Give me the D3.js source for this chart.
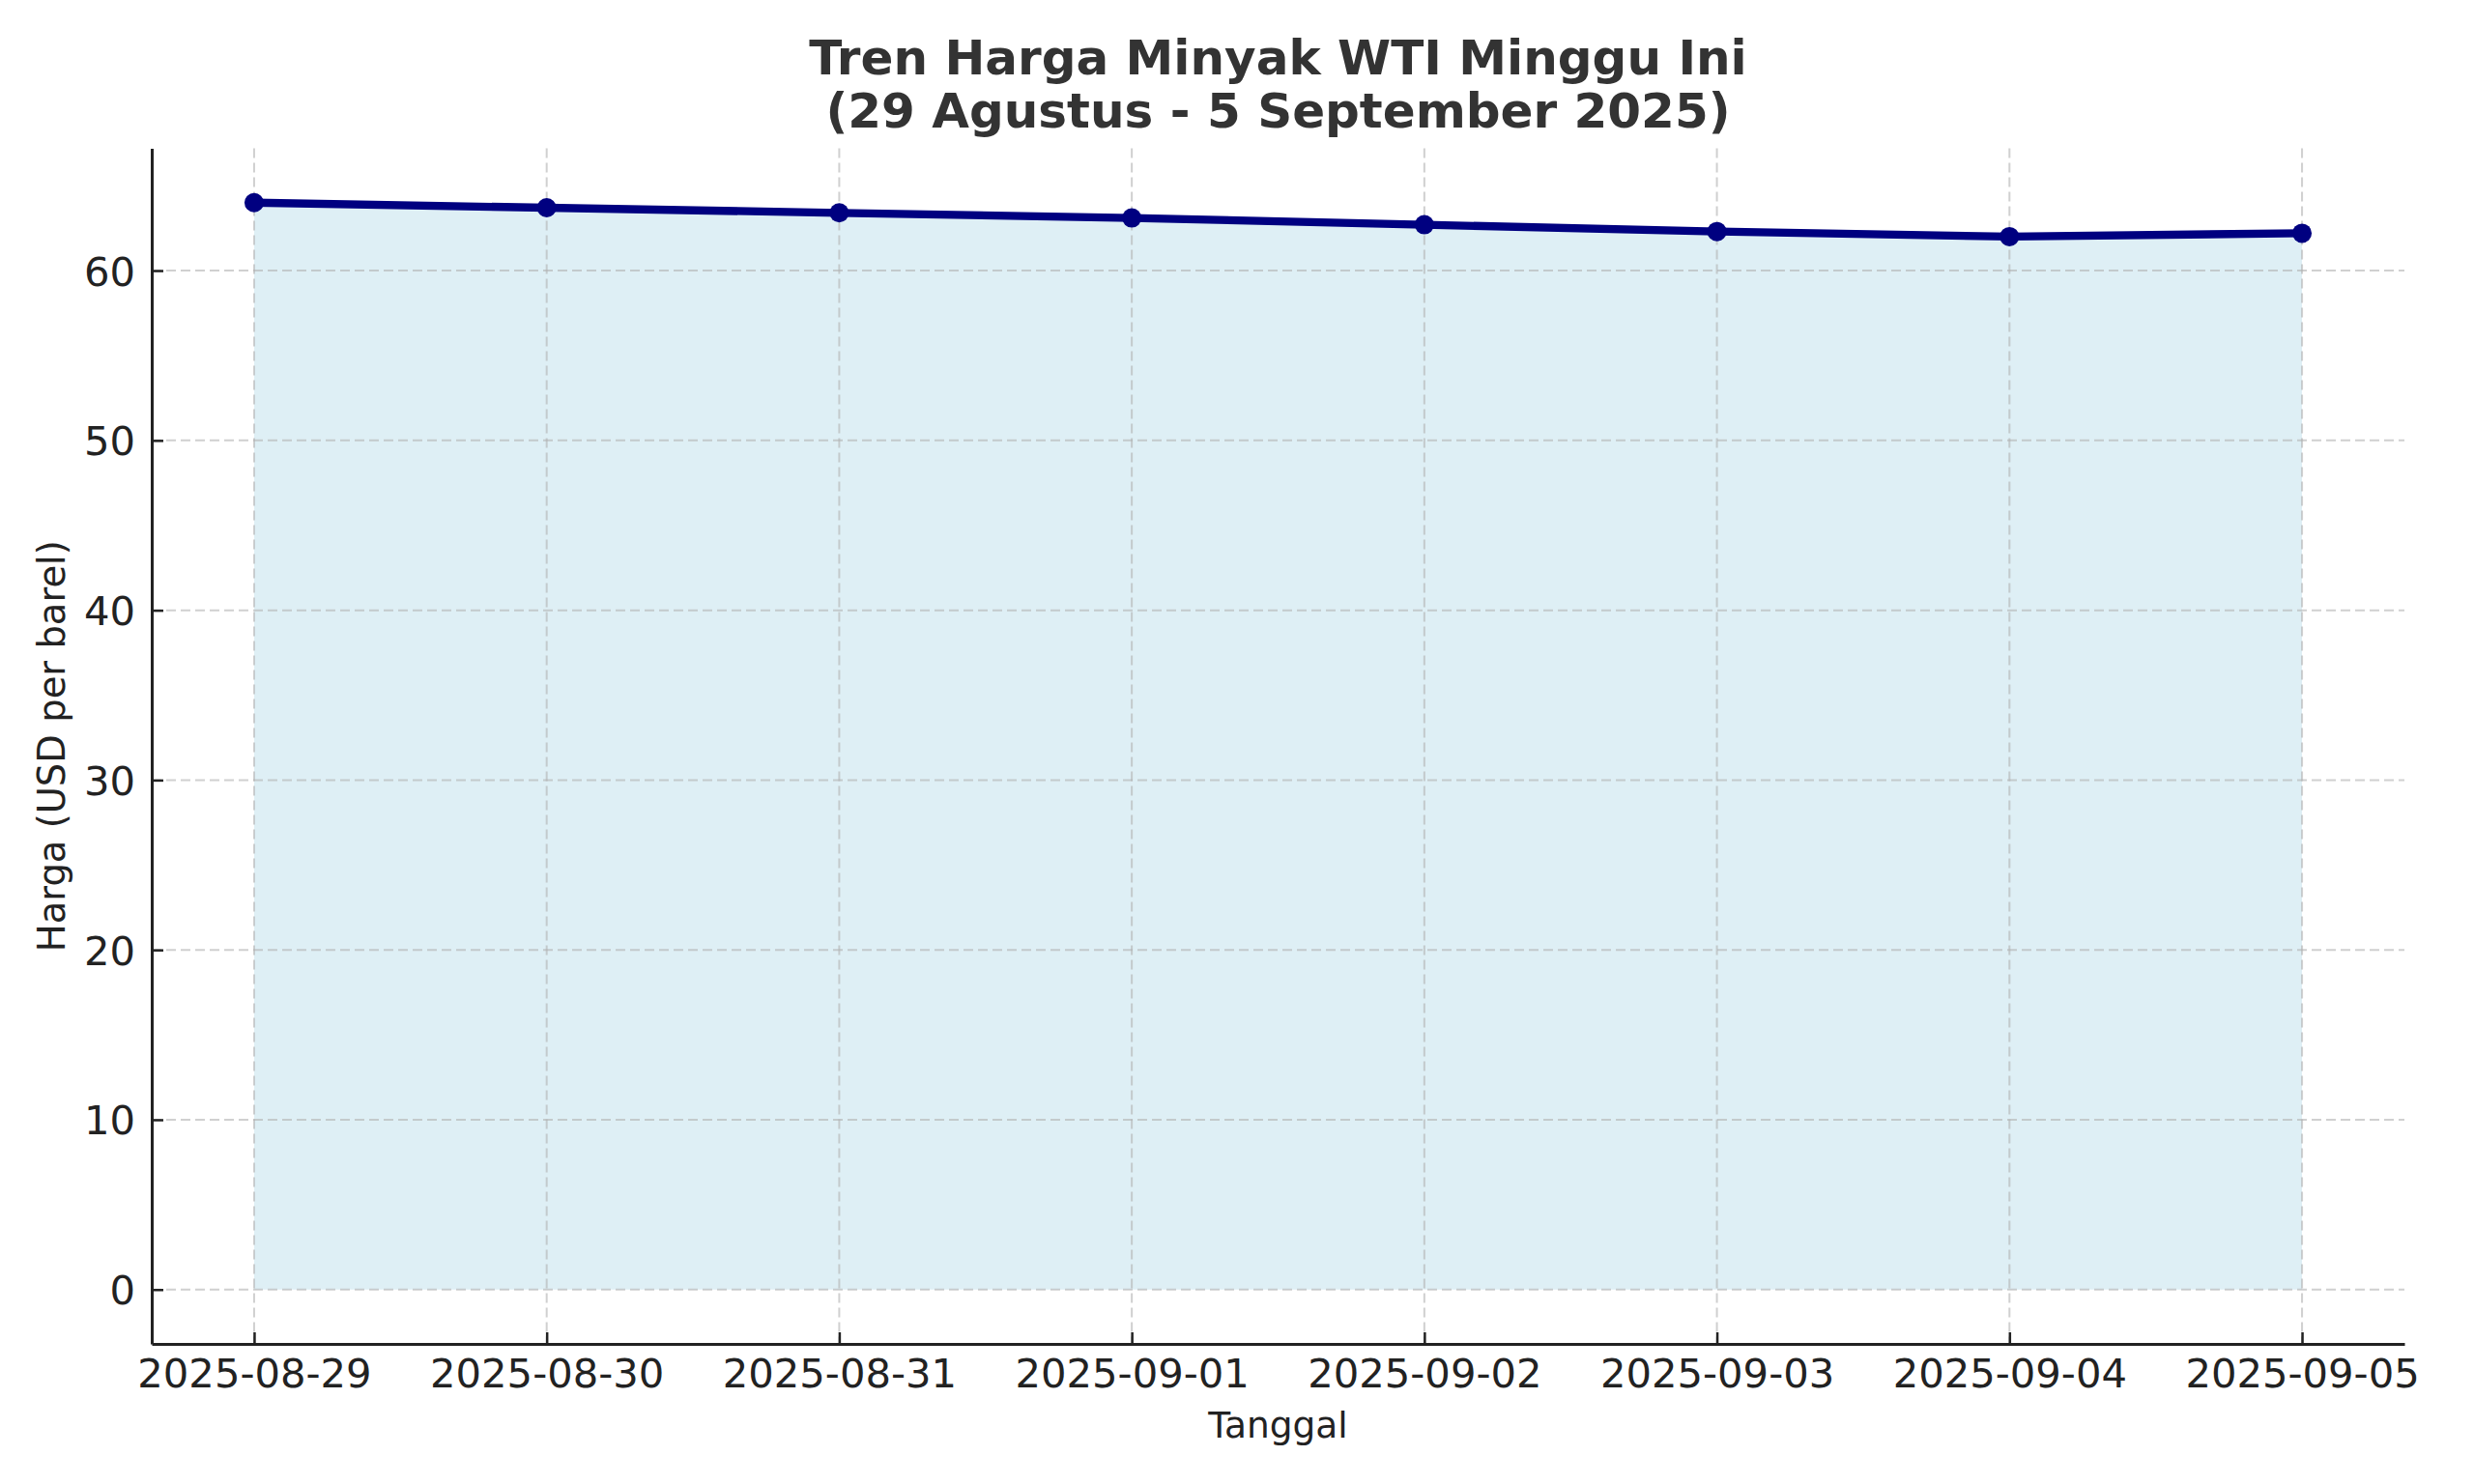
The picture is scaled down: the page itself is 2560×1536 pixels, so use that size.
<!DOCTYPE html>
<html>
<head>
<meta charset="utf-8">
<script src="https://cdn.jsdelivr.net/npm/d3@7"></script>
<style>
  html, body { margin: 0; padding: 0; background: #fff; }
  svg { display: block; }
  text { font-family: "DejaVu Sans", sans-serif; }
</style>
</head>
<body>
<script>
const dates = ["2025-08-29","2025-08-30","2025-08-31","2025-09-01","2025-09-02","2025-09-03","2025-09-04","2025-09-05"];
const prices = [64.0, 63.7, 63.4, 63.1, 62.7, 62.3, 62.0, 62.2];
const yTicks = [0, 10, 20, 30, 40, 50, 60];
const titleLines = ["Tren Harga Minyak WTI Minggu Ini", "(29 Agustus - 5 September 2025)"];
const xLabel = "Tanggal";
const yLabel = "Harga (USD per barel)";

(function () {
const W = 2560, H = 1536;
const mLeft = 157, mRight = 2488, mTop = 153.5, mBottom = 1391;

const parse = d3.utcParse("%Y-%m-%d");
const data = dates.map((d, i) => ({ date: parse(d), value: prices[i] }));
const t0 = data[0].date.getTime(), t1 = data[data.length - 1].date.getTime();
const padT = (t1 - t0) * 0.05;

const x = d3.scaleUtc().domain([new Date(t0 - padT), new Date(t1 + padT)]).range([mLeft, mRight]);
const yMax = d3.max(prices);
const yPad = yMax * 0.05;
const y = d3.scaleLinear().domain([-yPad, yMax + yPad]).range([mBottom, mTop]);

const svg = d3.select("body").append("svg").attr("width", W).attr("height", H);

// Fill area
svg.append("path")
  .datum(data)
  .attr("d", d3.area().x(d => x(d.date)).y0(y(0)).y1(d => y(d.value)))
  .attr("fill", "#add8e6").attr("fill-opacity", 0.4);

// Grid
const grid = svg.append("g");
grid.selectAll("line.hg").data(yTicks).join("line")
  .attr("x1", mLeft).attr("x2", mRight)
  .attr("y1", d => y(d)).attr("y2", d => y(d))
  .attr("stroke", "#b0b0b0").attr("stroke-opacity", 0.6)
  .attr("stroke-width", 2).attr("stroke-dasharray", "10,5");
grid.selectAll("line.vg").data(data).join("line")
  .attr("x1", d => x(d.date)).attr("x2", d => x(d.date))
  .attr("y1", mTop).attr("y2", mBottom)
  .attr("stroke", "#b0b0b0").attr("stroke-opacity", 0.6)
  .attr("stroke-width", 2).attr("stroke-dasharray", "10,5");

// Line
svg.append("path")
  .datum(data)
  .attr("d", d3.line().x(d => x(d.date)).y(d => y(d.value)))
  .attr("fill", "none").attr("stroke", "#000080")
  .attr("stroke-width", 8.3).attr("stroke-linejoin", "round").attr("stroke-linecap", "butt");

svg.selectAll("circle.pt").data(data).join("circle")
  .attr("cx", d => x(d.date)).attr("cy", d => y(d.value))
  .attr("r", 10).attr("fill", "#000080");

// Axes
const xAxis = d3.axisBottom(x)
  .tickValues(data.map(d => d.date))
  .tickFormat(d3.utcFormat("%Y-%m-%d"))
  .tickSizeInner(-12).tickSizeOuter(0).tickPadding(24);
const gx = svg.append("g").attr("transform", `translate(0,${mBottom})`).call(xAxis);
gx.select(".domain").attr("stroke", "#222").attr("stroke-width", 3);
gx.selectAll(".tick line").attr("stroke", "#222").attr("stroke-width", 2.5);
gx.selectAll(".tick text").attr("font-size", 41.7).attr("fill", "#222")
  .attr("font-family", "DejaVu Sans").attr("dy", null).attr("y", 45);

const yAxis = d3.axisLeft(y)
  .tickValues(yTicks)
  .tickSizeInner(-12).tickSizeOuter(0).tickPadding(17);
const gy = svg.append("g").attr("transform", `translate(${mLeft},0)`).call(yAxis);
gy.select(".domain").attr("stroke", "#222").attr("stroke-width", 3);
gy.selectAll(".tick line").attr("stroke", "#222").attr("stroke-width", 2.5);
gy.selectAll(".tick text").attr("font-size", 41.7).attr("fill", "#222")
  .attr("font-family", "DejaVu Sans").attr("dy", "0.36em").attr("x", -17);

// Labels
svg.append("text")
  .attr("x", (mLeft + mRight) / 2).attr("y", 1488)
  .attr("text-anchor", "middle").attr("font-size", 37.5).attr("fill", "#222")
  .text(xLabel);
svg.append("text")
  .attr("transform", `translate(67,${(mTop + mBottom) / 2}) rotate(-90)`)
  .attr("text-anchor", "middle").attr("font-size", 38.5).attr("fill", "#222")
  .text(yLabel);

// Title
const tt = svg.append("text")
  .attr("text-anchor", "middle").attr("font-size", 50).attr("font-weight", "bold").attr("fill", "#333");
titleLines.forEach((l, i) => {
  tt.append("tspan").attr("x", (mLeft + mRight) / 2).attr("y", 77 + i * 55).text(l);
});
})();
</script>
</body>
</html>
